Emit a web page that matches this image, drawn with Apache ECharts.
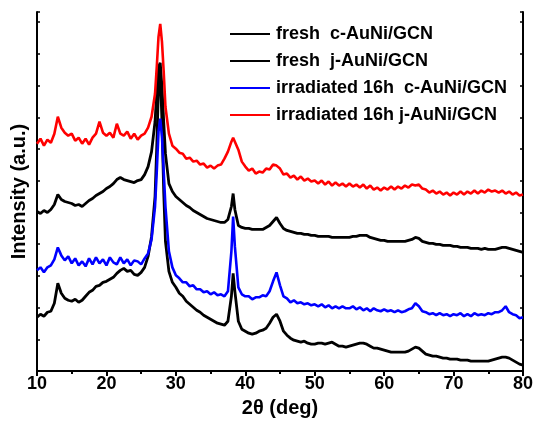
<!DOCTYPE html>
<html>
<head>
    <meta charset="UTF-8">
    <title>XRD</title>
    <script src="https://cdn.jsdelivr.net/npm/echarts@6/dist/echarts.min.js"></script>
    <style>
        html, body { margin: 0; padding: 0; background: #fff; }
    </style>
</head>
<body>
    <div id="main" style="width: 537px;height:423px;"></div>
    <script type="text/javascript">
        // 2θ 取样点
        var twoTheta = [
            10, 10.5, 11, 11.5, 12, 12.5, 13, 13.5, 14, 14.5,
            15, 15.5, 16, 16.5, 17, 17.5, 18, 18.5, 19, 19.5,
            20, 20.5, 21, 21.5, 22, 22.5, 23, 23.5, 24, 24.5,
            25, 25.5, 26, 26.5, 27, 27.25, 27.5, 27.75, 28, 28.25, 28.5,
            29, 29.5, 30, 30.5, 31, 31.5, 32, 32.5, 33, 33.5,
            34, 34.5, 35, 35.5, 36, 36.5, 37, 37.5, 38, 38.25, 38.5,
            39, 39.5, 40, 40.5, 41, 41.5, 42, 42.5, 43, 43.5,
            44, 44.5, 45, 45.5, 46, 46.5, 47, 47.5, 48, 48.5,
            49, 49.5, 50, 50.5, 51, 51.5, 52, 52.5, 53, 53.5,
            54, 54.5, 55, 55.5, 56, 56.5, 57, 57.5, 58, 58.5,
            59, 59.5, 60, 60.5, 61, 61.5, 62, 62.5, 63, 63.5,
            64, 64.5, 65, 65.5, 66, 66.5, 67, 67.5, 68, 68.5,
            69, 69.5, 70, 70.5, 71, 71.5, 72, 72.5, 73, 73.5,
            74, 74.5, 75, 75.5, 76, 76.5, 77, 77.5, 78, 78.5,
            79, 79.5, 80
        ];

        // 强度 (已叠加偏移, 任意单位)
        var freshC = [
            54, 57, 55, 59, 60, 68, 88, 78, 73, 71,
            70, 72, 69, 71, 75, 79, 81, 85, 86, 89,
            90, 92, 94, 98, 101, 103, 100, 101, 97, 96,
            99, 104, 115, 135, 175, 225, 285, 300, 250, 180, 130,
            100, 89, 84, 78, 75, 70, 67, 64, 61, 59,
            56, 54, 52, 50, 48, 47, 46, 50, 75, 98, 80,
            50, 42, 40, 38, 37, 38, 40, 41, 43, 48,
            54, 57, 50, 40, 36, 33, 31, 30, 29, 30,
            28, 27, 27, 28, 28, 27, 28, 29, 27, 25,
            25, 24, 25, 26, 27, 28, 28, 27, 25, 23,
            23, 22, 21, 20, 19, 19, 19, 19, 19, 20,
            22, 24, 23, 20, 17, 16, 15, 15, 14, 13,
            13, 12, 12, 12, 11, 11, 11, 10, 10, 10,
            10, 10, 10, 11, 12, 13, 14, 14, 13, 11,
            9, 7, 6
        ];
        var freshJ = [
            160, 158, 161, 159, 162, 167, 177, 172, 170, 169,
            168, 166, 167, 165, 168, 171, 173, 176, 178, 180,
            183, 185, 188, 192, 194, 192, 191, 190, 189, 191,
            192, 197, 205, 220, 250, 280, 305, 309, 285, 250, 218,
            188, 180, 175, 172, 169, 166, 164, 161, 159, 157,
            155, 153, 152, 151, 150, 149, 149, 152, 165, 178, 162,
            146, 144, 143, 143, 142, 142, 142, 142, 144, 146,
            150, 154, 148, 143, 141, 140, 139, 138, 138, 137,
            137, 136, 136, 135, 135, 135, 135, 134, 134, 134,
            134, 134, 134, 135, 135, 136, 136, 136, 134, 133,
            132, 131, 131, 130, 130, 130, 130, 130, 130, 131,
            132, 134, 133, 130, 129, 128, 128, 127, 127, 126,
            126, 126, 125, 125, 124, 124, 124, 123, 123, 123,
            122, 123, 122, 122, 122, 123, 124, 124, 123, 122,
            121, 120, 119
        ];
        var irrC = [
            101, 104, 99, 104, 106, 112, 124, 116, 111, 115,
            108, 113, 106, 110, 105, 113, 107, 114, 108, 112,
            106, 114, 109, 107, 114, 108, 112, 106, 111, 110,
            107, 113, 118, 132, 165, 200, 240, 253, 235, 200, 165,
            120, 104, 96, 93, 89, 89, 85, 86, 82, 82,
            79, 80, 77, 79, 76, 77, 75, 80, 120, 155, 125,
            84, 77, 75, 75, 72, 74, 74, 76, 75, 80,
            90, 99, 86, 75, 73, 69, 71, 68, 69, 67,
            68, 66, 67, 65, 67, 64, 66, 63, 65, 63,
            65, 63, 63, 65, 62, 64, 61, 63, 60, 63,
            61, 60, 62, 60, 61, 59, 61, 59, 60, 62,
            63, 68, 65, 60, 59, 57, 58, 56, 58, 56,
            57, 55, 57, 56, 58, 55, 57, 55, 58, 56,
            57, 56, 58, 57, 59, 59, 61, 65, 59, 57,
            56, 53, 54
        ];
        var irrJ = [
            228, 233, 226, 232, 229, 238, 255, 244, 239, 236,
            238, 231, 234, 228, 233, 227, 234, 238, 250, 239,
            236, 239, 234, 248, 238, 236, 240, 233, 238, 232,
            236, 238, 244, 255, 278, 305, 335, 348, 330, 300, 265,
            238, 226, 223, 219, 218, 213, 214, 210, 211, 207,
            208, 204, 206, 203, 206, 207, 213, 220, 230, 234, 232,
            222, 210, 205, 201, 203, 198, 200, 199, 203, 202,
            207, 206, 203, 197, 198, 194, 196, 192, 195, 191,
            193, 190, 191, 188, 191, 187, 190, 186, 189, 186,
            188, 185, 188, 185, 187, 184, 187, 183, 186, 182,
            184, 181, 184, 182, 185, 182, 185, 183, 186, 184,
            187, 186, 187, 183, 182, 179, 181, 178, 180, 177,
            179, 176, 179, 177, 180, 177, 180, 178, 181, 178,
            181, 179, 182, 180, 181, 179, 181, 178, 180, 177,
            179, 176, 177
        ];

        var seriesNames = ['fresh  c-AuNi/GCN', 'fresh  j-AuNi/GCN', 'irradiated 16h  c-AuNi/GCN', 'irradiated 16h j-AuNi/GCN'];
        var seriesColors = ['#000000', '#000000', '#0000ff', '#ff0000'];
        var seriesValues = [freshC, freshJ, irrC, irrJ];
        var xTicks = [10, 20, 30, 40, 50, 60, 70, 80];

        function pairs(ys) {
            var out = [];
            for (var i = 0; i < twoTheta.length; i++) out.push([twoTheta[i], ys[i]]);
            return out;
        }

        var myChart = echarts.init(document.getElementById('main'));
        var font = 'Liberation Sans, Arial, sans-serif';

        var series = seriesNames.map(function (name, i) {
            return {
                name: name,
                type: 'line',
                data: pairs(seriesValues[i]),
                symbol: 'none',
                smooth: false,
                lineStyle: { color: seriesColors[i], width: i >= 2 ? 2.6 : 2.8 },
                itemStyle: { color: seriesColors[i] },
                animation: false
            };
        });

        var option = {
            backgroundColor: '#fff',
            animation: false,
            grid: { left: 37, right: 14, top: 12, bottom: 51.5 },
            legend: {
                left: 229,
                top: 25,
                padding: 0,
                orient: 'vertical',
                itemWidth: 40,
                itemHeight: 14,
                itemGap: 9,
                itemStyle: { opacity: 0 },
                lineStyle: { width: 2 },
                textStyle: { fontFamily: font, fontWeight: 'bold', fontSize: 18, color: '#000', padding: [0, 0, 0, 1] },
                data: seriesNames.map(function (n, i) {
                    return { name: n, itemStyle: { opacity: 0 }, lineStyle: { color: seriesColors[i], width: 2 } };
                })
            },
            xAxis: [{
                type: 'value',
                min: xTicks[0],
                max: xTicks[xTicks.length - 1],
                interval: 10,
                position: 'bottom',
                name: '2θ (deg)',
                nameLocation: 'middle',
                nameGap: 15,
                nameTextStyle: { fontFamily: font, fontWeight: 'bold', fontSize: 20, color: '#000' },
                axisLine: { lineStyle: { color: '#000', width: 2 } },
                axisTick: { inside: false, length: 5, lineStyle: { color: '#000', width: 2 } },
                minorTick: { show: true, splitNumber: 2, length: 3, lineStyle: { color: '#000', width: 2 } },
                axisLabel: { fontFamily: font, fontWeight: 'bold', fontSize: 18, color: '#000', margin: 4 },
                splitLine: { show: false }
            }, {
                type: 'value',
                min: 10,
                max: 80,
                interval: 5,
                position: 'top',
                axisLine: { lineStyle: { color: '#000', width: 2 } },
                axisTick: { inside: true, length: 3, lineStyle: { color: '#000', width: 1.5 } },
                axisLabel: { show: false },
                splitLine: { show: false }
            }],
            yAxis: [{
                type: 'value',
                min: 0,
                max: 360,
                interval: 31.8,
                position: 'left',
                name: 'Intensity (a.u.)',
                nameLocation: 'middle',
                nameGap: 8,
                nameTextStyle: { fontFamily: font, fontWeight: 'bold', fontSize: 20, color: '#000' },
                axisLine: { show: true, lineStyle: { color: '#000', width: 2 } },
                axisTick: { show: true, inside: true, length: 3, lineStyle: { color: '#000', width: 1.5 } },
                axisLabel: { show: false },
                splitLine: { show: false }
            }, {
                type: 'value',
                min: 0,
                max: 360,
                interval: 31.8,
                position: 'right',
                axisLine: { show: true, lineStyle: { color: '#000', width: 2 } },
                axisTick: { show: true, inside: true, length: 3, lineStyle: { color: '#000', width: 1.5 } },
                axisLabel: { show: false },
                splitLine: { show: false }
            }],
            series: series
        };

        myChart.setOption(option);
    </script>
</body>
</html>
